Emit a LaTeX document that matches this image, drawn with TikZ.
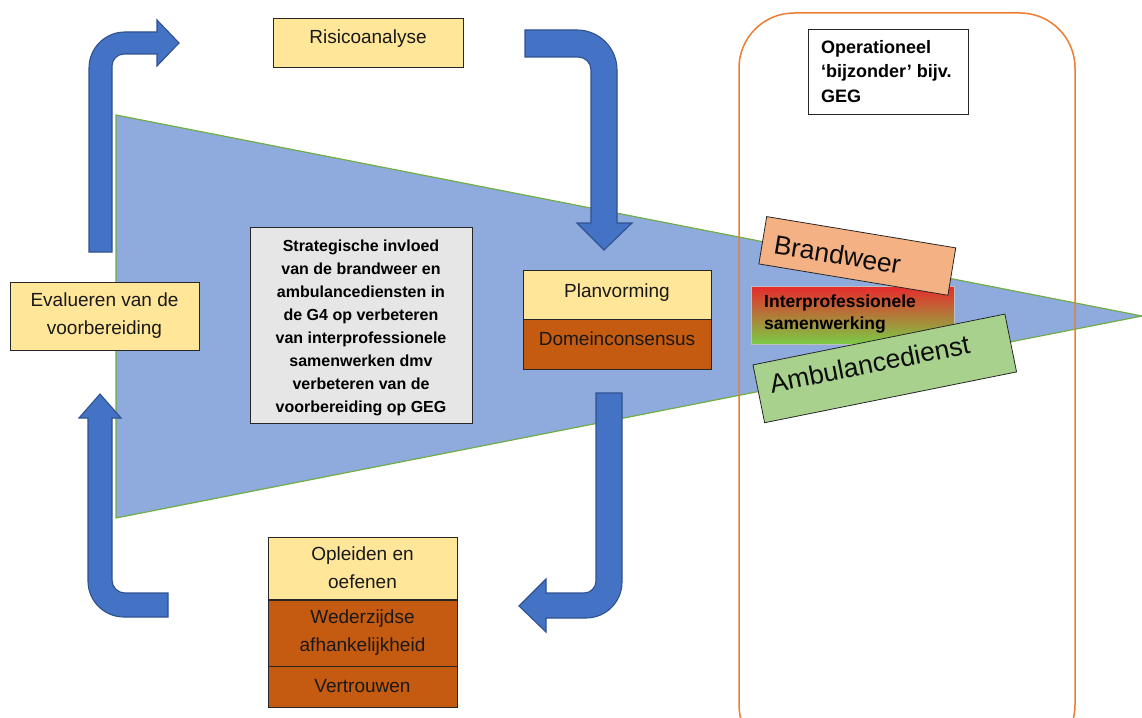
\documentclass[tikz,border=0pt]{standalone}
\usepackage{fontspec}
\setmainfont{Liberation Sans}
\definecolor{tri}{HTML}{8FAADC}
\definecolor{trigreen}{HTML}{70AD47}
\definecolor{arr}{HTML}{4472C4}
\definecolor{arrline}{HTML}{2F528F}
\definecolor{ybox}{HTML}{FFE699}
\definecolor{obox}{HTML}{C55A11}
\definecolor{orng}{HTML}{ED7D31}
\definecolor{gbox}{HTML}{E7E6E6}
\definecolor{bw}{HTML}{F4B183}
\definecolor{amb}{HTML}{A9D18E}
\definecolor{gred}{HTML}{E8292C}
\definecolor{ggreen}{HTML}{7CCB45}
\tikzset{
  bendarrow/.style={fill=arr, draw=arrline, line width=1.1pt, line join=miter},
  panel/.style={draw=black!85, line width=0.8pt, inner sep=0pt},
  yel/.style={panel, fill=ybox},
  brn/.style={panel, fill=obox},
  lbl/.style={inner sep=0pt, font=\fontsize{19}{28}\selectfont, align=center, text=black!90},
  boldlbl/.style 2 args={inner sep=0pt, font=\bfseries\fontsize{#1}{#2}\selectfont, text=black},
  bigtxt/.style={inner sep=0pt, font=\fontsize{26.5}{30}\selectfont, text=black!95},
}
\begin{document}
\begin{tikzpicture}[x=1pt,y=-1pt]
\path[use as bounding box] (0,0) rectangle (1142,717);
\clip (0,0) rectangle (1142,717);

% funnel triangle
\coordinate (tA) at (116,115);
\coordinate (tB) at (1142,316);
\coordinate (tC) at (116,518);
\filldraw[fill=tri, draw=trigreen, line width=1.2pt] (tA) -- (tB) -- (tC) -- cycle;

% operational rounded frame
\draw[orng, line width=1.5pt, rounded corners=55pt] (739,13) rectangle (1075,760);

% bent arrows
\draw[bendarrow] (89,252) -- (89,68) .. controls (89,48.1) and (105.1,32) .. (125,32)
  -- (157,32) -- (157,20) -- (179,43) -- (157,66) -- (157,54) -- (124,54)
  .. controls (117.4,54) and (112,59.4) .. (112,66) -- (112,252) -- cycle;
\draw[bendarrow] (525,30) -- (577,30) .. controls (599.1,30) and (617,47.9) .. (617,70)
  -- (617,223) -- (632,223) -- (604,250) -- (577,223) -- (591,223) -- (591,70)
  .. controls (591,62.8) and (585.2,57) .. (578,57) -- (525,57) -- cycle;
\draw[bendarrow] (596,393) -- (622,393) -- (622,582) .. controls (622,601.9) and (605.9,618) .. (586,618)
  -- (546,618) -- (546,632) -- (519,606) -- (546,579) -- (546,593) -- (584,593)
  .. controls (590.6,593) and (596,587.6) .. (596,581) -- cycle;
\draw[bendarrow] (168,617) -- (124,617) .. controls (104.1,617) and (88,600.9) .. (88,581)
  -- (88,418) -- (79,418) -- (100,394) -- (121,418) -- (112,418) -- (112,580)
  .. controls (112,587.2) and (117.8,593) .. (125,593) -- (168,593) -- cycle;

% Risicoanalyse
\node[yel, minimum width=190pt, minimum height=49pt] (risk) at (368,42.5) {};
\node[lbl, anchor=base] (risktxt) at (368,44) {Risicoanalyse};

% Evalueren
\node[yel, minimum width=189pt, minimum height=68pt, lbl] (eval) at (104.5,316) {Evalueren van de\\voorbereiding};

% Planvorming / Domeinconsensus
\node[yel, minimum width=188pt, minimum height=49pt] (plan) at (617,294.5) {};
\node[lbl, anchor=base] (plantxt) at (617,297) {Planvorming};
\node[brn, minimum width=188pt, minimum height=50pt] (dom) at (617,344) {};
\node[lbl, anchor=base] (domtxt) at (617,345) {Domeinconsensus};

% Opleiden stack
\node[yel, minimum width=189pt, minimum height=62pt, lbl] (opl) at (362.5,568) {Opleiden en\\oefenen};
\node[brn, minimum width=189pt, minimum height=66pt, lbl] (wed) at (362.5,633) {Wederzijdse\\afhankelijkheid};
\node[brn, minimum width=189pt, minimum height=41pt] (ver) at (362.5,686.5) {};
\node[lbl, anchor=base] (vertxt) at (362.5,692) {Vertrouwen};

% Strategic box
\node[panel, fill=gbox, minimum width=222pt, minimum height=196pt] (strat) at (361,325) {};
\node[boldlbl={16}{22.9}, align=center] (strattxt) at (361,328) {Strategische invloed\\van de brandweer en\\ambulancediensten in\\de G4 op verbeteren\\van interprofessionele\\samenwerken dmv\\verbeteren van de\\voorbereiding op GEG};

% Operational box
\node[panel, fill=white, minimum width=160pt, minimum height=85pt] (oper) at (888,71.5) {};
\node[boldlbl={18}{24.7}, align=left, anchor=west] (opertxt) at (821,71.4) {Operationeel\\‘bijzonder’ bijv.\\GEG};

% Interprofessionele samenwerking
\node[shade, top color=gred, bottom color=ggreen, draw=gray!50, line width=0.4pt, inner sep=0pt,
  minimum width=203pt, minimum height=58pt] (inter) at (853,315) {};
\node[boldlbl={17.5}{22}, align=left, anchor=west] (intertxt) at (764,314.5) {Interprofessionele\\samenwerking};

% Brandweer
\begin{scope}[shift={(857.3,255.9)}, rotate=-9.4, transform shape]
\node[panel, fill=bw, minimum width=191.6pt, minimum height=48pt] (bw) at (0,0) {};
\node[bigtxt, anchor=base west] (bwtxt) at (-84,11.3) {Brandweer};
\end{scope}

% Ambulancedienst
\begin{scope}[shift={(884.75,368.4)}, rotate=11.4, transform shape]
\node[panel, fill=amb, minimum width=257pt, minimum height=59pt] (amb) at (0,0) {};
\node[bigtxt, anchor=base west] (ambtxt) at (-115.8,2) {Ambulancedienst};
\end{scope}
\end{tikzpicture}
\end{document}
